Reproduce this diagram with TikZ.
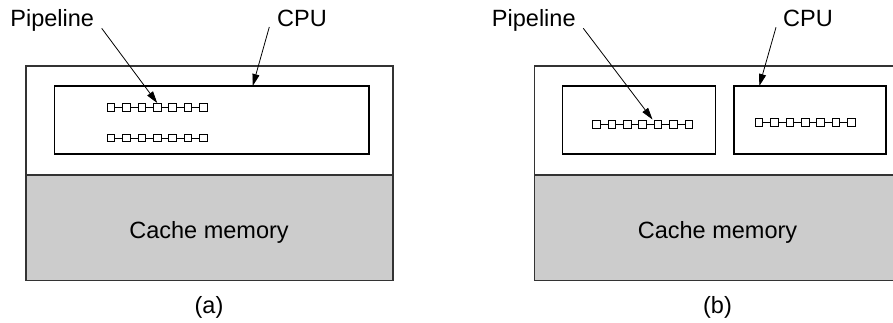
\documentclass[tikz,border=0pt]{standalone}
\usepackage{fontspec}
\setmainfont{Liberation Sans}
\usetikzlibrary{arrows.meta,calc}
\begin{document}
\begin{tikzpicture}[x=1bp,y=-1bp,
  lbl/.style={inner sep=0pt,anchor=base,font=\fontsize{23.6}{28}\selectfont},
  outerbox/.style={draw=black!80,line width=1.6bp},
  cachebox/.style={draw=black!80,line width=1.6bp,fill=black!20},
  innerbox/.style={draw=black,line width=1.1bp,inner sep=0pt},
  stage/.style={draw=black,fill=white,line width=1bp,minimum size=7.5bp,inner sep=0pt},
  link/.style={line width=0.9bp},
  arr/.style={line width=0.8bp,-{Triangle[length=12bp,width=7bp]}}]
\useasboundingbox (0,0) rectangle (893,322);
\clip (0,0) rectangle (893,322);
% panel (a)
\draw[outerbox] (25.7,65.7) rectangle (393,280.5);
\draw[cachebox] (25.7,175) rectangle (393,280.5);
\node[innerbox,minimum width=314.7bp,minimum height=68bp] (ia) at (211.65,120) {};
% panel (b)
\draw[outerbox] (534.3,65.7) rectangle (901.6,280.5);
\draw[cachebox] (534.3,175) rectangle (901.6,280.5);
\node[innerbox,minimum width=153bp,minimum height=68bp] (ib1) at (639.2,120) {};
\node[innerbox,minimum width=152bp,minimum height=68bp] (ib2) at (810,120) {};
% pipelines
\foreach \r/\x/\y in {a/107.3/107.3, c/107.3/138, b/592.7/124.5, d/755.3/122.6}{
  \foreach \i in {1,...,7}{
    \node[stage] (\r\i) at ({\x+3.75+(\i-1)*15.4},\y) {};
  }
  \foreach \i [evaluate=\i as \j using int(\i+1)] in {1,...,6}{
    \draw[link] (\r\i.east) -- (\r\j.west);
  }
}
% labels
\node[lbl] (pla) at (52.2,26.7) {Pipeline};
\node[lbl] (cpa) at (302,26.7) {CPU};
\node[lbl] (plb) at (533.8,26.7) {Pipeline};
\node[lbl] (cpb) at (808,26.7) {CPU};
\node[lbl] (cma) at (209,238.3) {Cache memory};
\node[lbl] (cmb) at (717.5,238.3) {Cache memory};
\node[lbl] (capa) at (209,313) {(a)};
\node[lbl] (capb) at (717.5,313) {(b)};
% arrows
\coordinate (sPa) at (101.7,28.3);
\coordinate (sCa) at (269.3,27);
\coordinate (eCa) at (252.7,86);
\coordinate (sPb) at (583.3,28.3);
\coordinate (ePb) at (652.5,119.5);
\coordinate (sCb) at (776,27.3);
\coordinate (eCb) at (759.3,86);
\draw[arr] (sPa) -- (a4.north);
\draw[arr] (sCa) -- (eCa);
\draw[arr] (sPb) -- (ePb);
\draw[arr] (sCb) -- (eCb);
\end{tikzpicture}
\end{document}
